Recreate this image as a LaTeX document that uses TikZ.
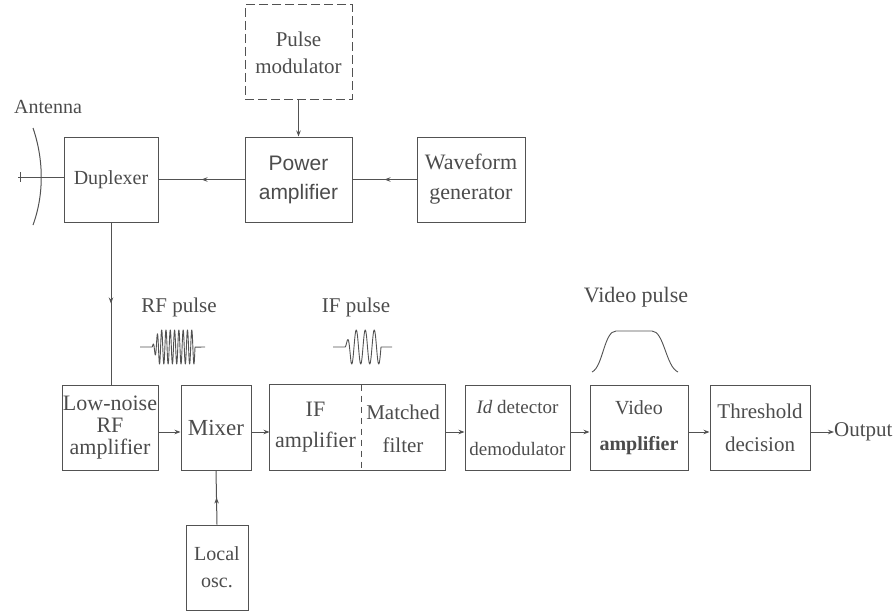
\documentclass[tikz,border=0pt]{standalone}
\usepackage{fontspec}
\setmainfont{Liberation Serif}
\newfontfamily\pasans{Liberation Sans}
\usetikzlibrary{arrows.meta,decorations.markings}
\definecolor{ink}{gray}{0.32}
\definecolor{txt}{gray}{0.30}
\tikzset{
  blk/.style={draw=ink, line width=1pt, inner sep=0pt, text=txt, align=center,
              minimum height=85pt, font=\fontsize{21}{30}\selectfont},
  lbl/.style={text=txt, inner sep=0pt, font=\fontsize{21}{24}\selectfont},
  conn/.style={draw=ink, line width=1pt},
  endarrow/.style={conn, -{Stealth[length=6pt,width=4.5pt]}},
  midarrow/.style={conn, decoration={markings, mark=at position 0.5 with {\arrow{Stealth[length=6pt,width=4.5pt]}}}, postaction=decorate},
  wave/.style={draw=ink, line width=0.9pt, line join=round}
}
\begin{document}
\begin{tikzpicture}[x=1pt,y=-1pt]
\useasboundingbox (0,0) rectangle (896,615);
% top row
\node[blk, minimum width=94pt, font=\fontsize{20}{28}\selectfont] (dup) at (111,179.5) {Duplexer};
\node[blk, minimum width=107pt, font=\pasans\fontsize{21}{29}\selectfont] (pa) at (298.5,179.5) {Power\\amplifier};
\node[blk, minimum width=108pt, font=\fontsize{22}{30}\selectfont] (wg) at (471,179.5) {Waveform\\generator};
\node[blk, dashed, dash pattern=on 9pt off 4pt, minimum width=107pt, minimum height=95pt, font=\fontsize{21}{27}\selectfont] (pm) at (298.5,52.5) {Pulse\\modulator};
% antenna
\node[lbl, anchor=west, font=\fontsize{20}{24}\selectfont] (ant) at (14,107) {Antenna};
\draw[conn] (33,128) .. controls (44,160) and (44,195) .. (33,225);
\coordinate (antfeed) at (18,177);
\draw[conn] (antfeed) -- (dup.west |- antfeed);
\draw[conn] (20,172) -- (20,182);
% bottom row
\node[blk, minimum width=96pt, font=\fontsize{22}{22}\selectfont] (lna) at (110,427.5) {Low-noise\\RF\\amplifier};
\node[blk, minimum width=70pt, font=\fontsize{23}{28}\selectfont] (mix) at (216,427.5) {Mixer};
\node[blk, draw=none, minimum width=91pt, font=\fontsize{22}{31}\selectfont] (ifa) at (315.5,427.5) {IF\\amplifier};
\node[blk, draw=none, minimum width=84pt, font=\fontsize{21}{33}\selectfont] (mf) at (403,429) {Matched\\filter};
\draw[conn] (ifa.north west) rectangle (mf.south east |- ifa.south);
\draw[conn, dashed, dash pattern=on 6pt off 5pt] (ifa.north east) -- (ifa.south east);
\node[blk, minimum width=105pt, font=\fontsize{19}{42}\selectfont] (det) at (517.5,427.5) {\textit{Id} detector\\demodulator};
\node[blk, minimum width=98pt, font=\fontsize{20}{36}\selectfont] (va) at (639,427.5) {Video\\\textbf{amplifier}};
\node[blk, minimum width=100pt, font=\fontsize{21}{33}\selectfont] (td) at (760,427.5) {Threshold\\decision};
\node[lbl, anchor=west, font=\fontsize{21}{24}\selectfont] (out) at (834,432) {Output};
\node[blk, minimum width=62pt, font=\fontsize{20}{27}\selectfont] (lo) at (217,567.5) {Local\\osc.};
% pulse labels
\node[lbl] (rfl) at (179,307) {RF pulse};
\node[lbl] (ifl) at (356,307) {IF pulse};
\node[lbl, font=\fontsize{22}{24}\selectfont] (vpl) at (636,297) {Video pulse};
% waveforms
\draw[wave] (140,347) -- (152,347) -- plot[domain=152:195, samples=400] (\x, {347 - 17*min(1,(\x-152)/7)*sin(360*(\x-152)/4.3)}) -- (205,347);
\draw[wave] (333,347) -- (345,347) -- plot[domain=345:381, samples=300] (\x, {347 - 17*min(1,(\x-345)/6)*sin(360*(\x-345)/9)}) -- (392,347);
\draw[wave] (592,372) .. controls (603,367) and (604,331) .. (616,331) -- (652,331) .. controls (664,331) and (666,367) .. (678,372);
% connectors
\draw[midarrow] (pa.west) -- (dup.east);
\draw[midarrow] (wg.west) -- (pa.east);
\draw[endarrow] (pm.south) -- (pa.north);
\draw[midarrow] (dup.south) -- (dup.south |- lna.north);
\draw[endarrow] (lna.east |- 0,432) -- (mix.west |- 0,432);
\draw[endarrow] (mix.east |- 0,432) -- (ifa.west |- 0,432);
\draw[endarrow] (mf.east |- 0,432) -- (det.west |- 0,432);
\draw[endarrow] (det.east |- 0,432) -- (va.west |- 0,432);
\draw[endarrow] (va.east |- 0,432) -- (td.west |- 0,432);
\draw[endarrow] (td.east |- 0,432) -- (out.west);
\draw[midarrow] (lo.north) -- (mix.south);
\end{tikzpicture}
\end{document}
